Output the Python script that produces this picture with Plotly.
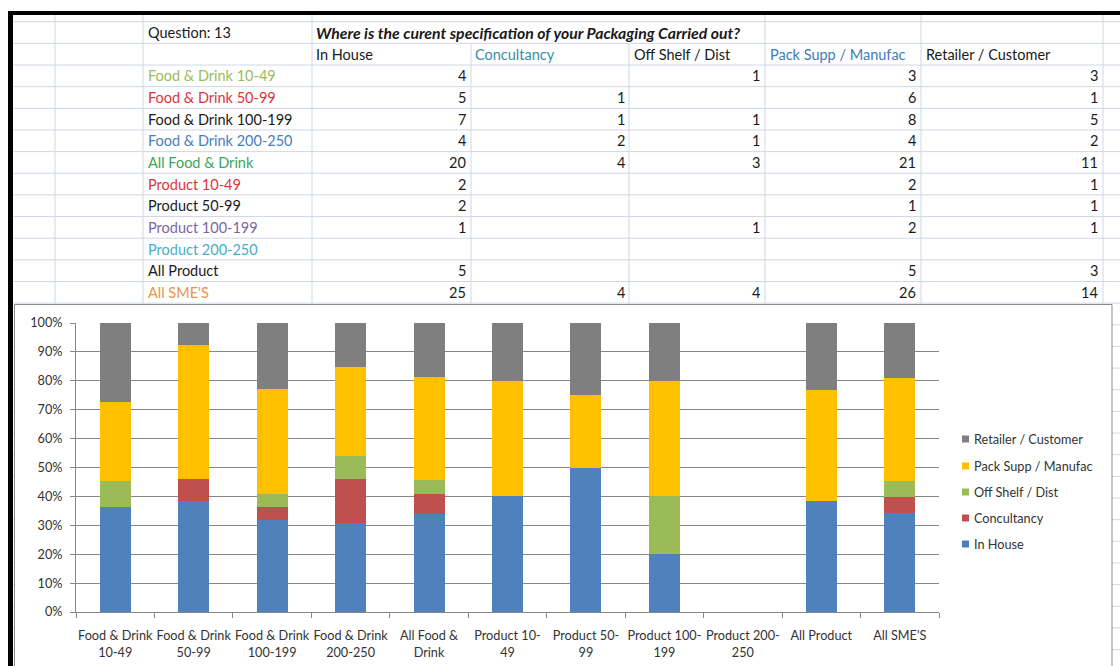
import plotly.graph_objects as go

W, H = 1120, 666

# ---------------- data ----------------
question_label = "Question: 13"
question_text = "Where is the curent specification of your Packaging Carried out?"

categories = ["Food & Drink 10-49", "Food & Drink 50-99", "Food & Drink 100-199",
              "Food & Drink 200-250", "All Food & Drink", "Product 10-49",
              "Product 50-99", "Product 100-199", "Product 200-250",
              "All Product", "All SME'S"]
tick_labels = ["Food & Drink<br>10-49", "Food & Drink<br>50-99", "Food & Drink<br>100-199",
               "Food & Drink<br>200-250", "All Food &<br>Drink", "Product 10-<br>49",
               "Product 50-<br>99", "Product 100-<br>199", "Product 200-<br>250",
               "All Product", "All SME'S"]
series_names = ["In House", "Concultancy", "Off Shelf / Dist",
                "Pack Supp / Manufac", "Retailer / Customer"]
in_house = [4, 5, 7, 4, 20, 2, 2, 1, None, 5, 25]
concultancy = [None, 1, 1, 2, 4, None, None, None, None, None, 4]
off_shelf = [1, None, 1, 1, 3, None, None, 1, None, None, 4]
pack_supp = [3, 6, 8, 4, 21, 2, 1, 2, None, 5, 26]
retailer = [3, 1, 5, 2, 11, 1, 1, 1, None, 3, 14]
series_values = [in_house, concultancy, off_shelf, pack_supp, retailer]
y_ticks = [0, 10, 20, 30, 40, 50, 60, 70, 80, 90, 100]
y_tick_labels = [f"{v}%" for v in y_ticks]

# ---------------- styles ----------------
FONT = "Lato"
series_colors = ["#4F81BD", "#C0504D", "#9BBB59", "#FFC000", "#7F7F7F"]
row_label_colors = ["#9BBB59", "#D9363E", "#1A1A1A", "#4A7EBB", "#3BA55C",
                    "#D9363E", "#1A1A1A", "#8064A2", "#4BACC6", "#1A1A1A", "#E8954A"]
header_colors = ["#1A1A1A", "#3A8CA6", "#1A1A1A", "#3E7CB8", "#1A1A1A"]
GRID = "#D0D7E5"
AXIS = "#878787"
TABLE_SIZE = 14.5
CHART_SIZE = 12.7

def px(x):
    return x / W

def py(y):
    return 1 - y / H

fig = go.Figure()
for name, vals, col in zip(series_names, series_values, series_colors):
    fig.add_trace(go.Bar(x=categories, y=vals, name=name, marker=dict(color=col, line=dict(width=0)),
                         showlegend=False))

shapes = []
annotations = []

# spreadsheet grid lines
row0 = 21.7
rowh = 21.65
k = 0
while row0 + k * rowh < H:
    yy = row0 + k * rowh
    shapes.append(dict(type="line", xref="paper", yref="paper", x0=px(13), x1=1,
                       y0=py(yy), y1=py(yy), line=dict(color=GRID, width=1), layer="below"))
    k += 1
col_lines = [55, 143, 312, 471, 629, 765, 921, 1103]
for cx in col_lines:
    top = 15
    if cx in (471, 629):
        top = row0 + rowh
    shapes.append(dict(type="line", xref="paper", yref="paper", x0=px(cx), x1=px(cx),
                       y0=py(top), y1=0, line=dict(color=GRID, width=1), layer="below"))

# black frame
shapes.append(dict(type="rect", xref="paper", yref="paper", x0=px(8), x1=px(13), y0=0, y1=py(11),
                   fillcolor="black", line=dict(width=0), layer="below"))
shapes.append(dict(type="rect", xref="paper", yref="paper", x0=px(8), x1=1, y0=py(15), y1=py(11),
                   fillcolor="black", line=dict(width=0), layer="below"))

# chart box
shapes.append(dict(type="rect", xref="paper", yref="paper", x0=px(14.5), x1=px(1112), y0=py(670),
                   y1=py(304.5), fillcolor="white", line=dict(color="#8C8C8C", width=1), layer="below"))

# table text
def row_center(i):
    return row0 + rowh * i + rowh / 2

def txt(x, y, s, color="#1A1A1A", anchor="left", size=TABLE_SIZE):
    annotations.append(dict(x=px(x), y=py(y), xref="paper", yref="paper", text=s, showarrow=False,
                            xanchor=anchor, yanchor="middle",
                            font=dict(family=FONT, size=size, color=color)))

txt(146, row_center(0), question_label)
txt(314, row_center(0), "<b><i>" + question_text + "</i></b>", size=15.8)
header_x = [314, 473, 632, 768, 924]
for hx, name, hc in zip(header_x, series_names, header_colors):
    txt(hx, row_center(1), name, color=hc)
value_right = [468, 627, 762, 918, 1100]
for i, cat in enumerate(categories):
    rc = row_center(2 + i)
    txt(146, rc, cat, color=row_label_colors[i])
    for vr, vals in zip(value_right, series_values):
        v = vals[i]
        if v is not None:
            txt(vr, rc, str(v), anchor="right")

# custom legend (top to bottom: reverse series order)
leg_y = [439, 466, 492, 518, 544]
for ly, name, col in zip(leg_y, series_names[::-1], series_colors[::-1]):
    shapes.append(dict(type="rect", xref="paper", yref="paper", x0=px(962), x1=px(969),
                       y0=py(ly + 3.5), y1=py(ly - 3.5), fillcolor=col, line=dict(width=0)))
    txt(972, ly, name, color="#333333", size=CHART_SIZE)

fig.update_layout(
    width=W, height=H,
    margin=dict(l=0, r=0, t=0, b=0, pad=0, autoexpand=False),
    paper_bgcolor="white",
    plot_bgcolor="rgba(0,0,0,0)",
    barmode="stack",
    barnorm="percent",
    bargap=0.605,
    showlegend=False,
    shapes=shapes,
    annotations=annotations,
    font=dict(family=FONT, size=CHART_SIZE, color="#333333"),
    xaxis=dict(domain=[px(76), px(939)], type="category", automargin=False,
               tickmode="array", tickvals=categories, ticktext=tick_labels,
               tickson="boundaries", ticks="outside", ticklen=5, tickcolor=AXIS,
               ticklabelstandoff=12,
               showline=True, linecolor=AXIS, linewidth=1, showgrid=False,
               tickfont=dict(family=FONT, size=CHART_SIZE, color="#333333"), tickangle=0),
    yaxis=dict(domain=[py(612), py(323)], range=[0, 100], automargin=False,
               tickmode="array", tickvals=y_ticks, ticktext=y_tick_labels,
               ticks="outside", ticklen=5, tickcolor=AXIS, ticklabelstandoff=5,
               showline=True, linecolor=AXIS, linewidth=1, showgrid=True, gridcolor=AXIS,
               gridwidth=1, zeroline=False,
               tickfont=dict(family=FONT, size=CHART_SIZE, color="#333333")),
)

fig.write_html("out.html")
